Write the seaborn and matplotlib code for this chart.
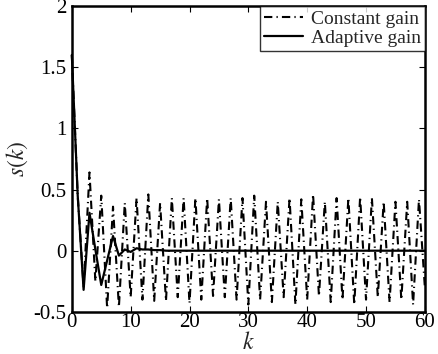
import numpy as np
import pandas as pd
import matplotlib
matplotlib.use("Agg")
import matplotlib.pyplot as plt
import seaborn as sns

# sample index k = 0..60
k = list(range(61))

constant_gain = [
    1.6, 0.45, -0.30, 0.64, -0.25, 0.45, -0.47, 0.36, -0.46, 0.39,
    -0.38, 0.43, -0.40, 0.46, -0.41, 0.39, -0.41, 0.43, -0.38, 0.43,
    -0.43, 0.43, -0.40, 0.43, -0.37, 0.42, -0.38, 0.43, -0.40, 0.43,
    -0.44, 0.45, -0.40, 0.40, -0.42, 0.40, -0.38, 0.43, -0.44, 0.42,
    -0.40, 0.46, -0.37, 0.40, -0.42, 0.43, -0.40, 0.43, -0.44, 0.44,
    -0.40, 0.43, -0.38, 0.40, -0.42, 0.40, -0.40, 0.40, -0.44, 0.42,
    -0.30,
]

adaptive_gain = [
    1.6, 0.45, -0.32, 0.31, 0.01, -0.28, -0.08, 0.12, -0.04, 0.01,
    -0.01, 0.02, 0.01, 0.01, 0.005, 0.005, 0.0, 0.0, 0.0, 0.0,
    0.0, 0.0, 0.0, 0.0, 0.0, 0.0, 0.0, 0.0, 0.0, 0.0,
    0.0, 0.0, 0.0, 0.0, 0.0, 0.0, 0.0, 0.0, 0.0, 0.0,
    0.0, 0.0, 0.0, 0.0, 0.0, 0.0, 0.0, 0.0, 0.0, 0.0,
    0.0, 0.0, 0.0, 0.0, 0.0, 0.0, 0.0, 0.0, 0.0, 0.0,
    0.0,
]

x_ticks = [0, 10, 20, 30, 40, 50, 60]
y_ticks = [-0.5, 0, 0.5, 1, 1.5, 2]
y_tick_labels = ["-0.5", "0", "0.5", "1", "1.5", "2"]

df = pd.DataFrame({"k": k, "constant": constant_gain, "adaptive": adaptive_gain})

sns.set_style("ticks")
plt.rcParams["font.family"] = ["Liberation Serif", "DejaVu Serif"]
plt.rcParams["mathtext.fontset"] = "stix"

fig = plt.figure(figsize=(4.38, 3.54), dpi=100)
ax = fig.add_axes([0.164, 0.119, 0.806, 0.864])

sns.lineplot(data=df, x="k", y="constant", ax=ax, color="black",
             linestyle=(0, (4, 2, 0.6, 2)), linewidth=1.5, label="Constant gain",
             zorder=3, clip_on=False)
sns.lineplot(data=df, x="k", y="adaptive", ax=ax, color="black",
             linestyle="-", linewidth=1.6, label="Adaptive gain", zorder=3,
             clip_on=False)

ax.set_xlim(0, 60)
ax.set_ylim(-0.5, 2)
ax.set_xticks(x_ticks)
ax.set_xticklabels([str(t) for t in x_ticks])
ax.set_yticks(y_ticks)
ax.set_yticklabels(y_tick_labels)
ax.tick_params(direction="in", top=True, right=True, length=4, width=0.8,
               labelsize=15, colors="black")
ax.tick_params(axis="y", pad=4)
ax.tick_params(axis="x", pad=1)

for s in ax.spines.values():
    s.set_visible(True)
    s.set_linewidth(1.8)
    s.set_color("black")

ax.set_xlabel("$k$", fontsize=17, labelpad=0)
ax.set_ylabel("$s(k)$", fontsize=17, labelpad=2)

leg = ax.legend(loc="upper right", fontsize=14, frameon=True, fancybox=False,
                borderaxespad=0.0, handlelength=2.0, handletextpad=0.4,
                borderpad=0.2, labelspacing=0.1)
leg.get_frame().set_edgecolor("black")
leg.get_frame().set_linewidth(1.0)
leg.set_zorder(5)

fig.savefig("out.png", dpi=100)
